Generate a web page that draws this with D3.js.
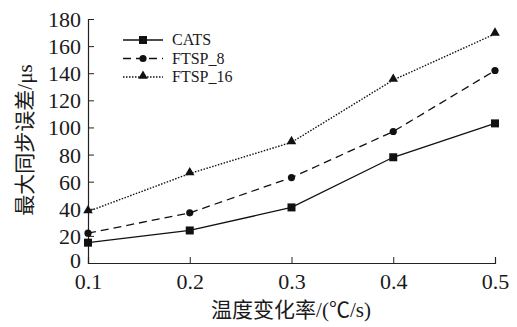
<!DOCTYPE html>
<html>
<head>
<meta charset="utf-8">
<script src="https://cdn.jsdelivr.net/npm/d3@7"></script>
<style>
  body { margin: 0; background: #fff; }
  text { font-family: "Liberation Serif", "Noto Sans CJK SC", serif; fill: #1a1a1a; }
</style>
</head>
<body>
<div id="chart"></div>
<script>
// data
var rates = [0.1, 0.2, 0.3, 0.4, 0.5];
var cats = [15, 24, 41, 78, 103];
var ftsp8 = [22, 37, 63, 97, 142];
var ftsp16 = [38, 66, 89, 135, 169];
var seriesNames = ["CATS", "FTSP_8", "FTSP_16"];
var yTicks = [0, 20, 40, 60, 80, 100, 120, 140, 160, 180];

var svgWidth = 517;
var svgHeight = 327;

var svg = d3.select("#chart")
  .append("svg")
  .attr("width", svgWidth)
  .attr("height", svgHeight);

var x = d3.scaleLinear().domain([0.1, 0.5]).range([88, 495]);
var y = d3.scaleLinear().domain([0, 180]).range([263, 19]);

// axes (ticks point inward)
var xAxis = svg.append("g")
  .attr("transform", "translate(0,263)")
  .call(d3.axisBottom(x).tickValues(rates).tickSize(-6).tickFormat(d3.format(".1f")));
var yAxis = svg.append("g")
  .attr("transform", "translate(88,0)")
  .call(d3.axisLeft(y).tickValues(yTicks).tickSize(-6));

[xAxis, yAxis].forEach(function(a) {
  a.attr("font-family", null);
  a.select(".domain").attr("stroke", "#222").attr("stroke-width", 1.2);
  a.selectAll(".tick line").attr("stroke", "#222").attr("stroke-width", 1);
  a.selectAll(".tick text")
    .style("font-family", "'Liberation Serif', serif")
    .style("font-size", "22px")
    .attr("fill", "#1a1a1a");
});
xAxis.selectAll(".tick text").attr("dy", "0.71em").attr("y", 10);
yAxis.selectAll(".tick text").attr("x", -7).attr("dy", "0.34em");
// lift the bottom "0" a little so it clears the "0.1" label
yAxis.selectAll(".tick text").filter(function(d) { return d === 0; }).attr("dy", "0.2em");

var series = [
  { name: seriesNames[0], values: cats, dash: null, marker: "square" },
  { name: seriesNames[1], values: ftsp8, dash: "8,5", marker: "circle" },
  { name: seriesNames[2], values: ftsp16, dash: "1.5,1.5", marker: "triangle" }
];

var line = d3.line()
  .x(function(d, i) { return x(rates[i]); })
  .y(function(d) { return y(d); });

function drawMarker(g, type, cx, cy) {
  if (type === "square") {
    g.append("rect").attr("x", cx - 4).attr("y", cy - 4).attr("width", 8).attr("height", 8).attr("fill", "#111");
  } else if (type === "circle") {
    g.append("circle").attr("cx", cx).attr("cy", cy).attr("r", 3.6).attr("fill", "#111");
  } else {
    g.append("path")
      .attr("d", d3.symbol().type(d3.symbolTriangle).size(40)())
      .attr("transform", "translate(" + cx + "," + (cy - 1) + ")")
      .attr("fill", "#111");
  }
}

series.forEach(function(s) {
  svg.append("path")
    .datum(s.values)
    .attr("d", line)
    .attr("fill", "none")
    .attr("stroke", "#111")
    .attr("stroke-width", s.marker === "triangle" ? 1.4 : 1.3)
    .attr("stroke-dasharray", s.dash);
  var g = svg.append("g");
  s.values.forEach(function(v, i) {
    drawMarker(g, s.marker, x(rates[i]), y(v));
  });
});

// legend
var legend = svg.append("g");
series.forEach(function(s, i) {
  var ly = 40 + i * 18.5;
  legend.append("line")
    .attr("x1", 123).attr("x2", 163)
    .attr("y1", ly).attr("y2", ly)
    .attr("stroke", "#111")
    .attr("stroke-width", 1.3)
    .attr("stroke-dasharray", s.dash);
  drawMarker(legend, s.marker, 143, ly);
  legend.append("text")
    .attr("x", 172)
    .attr("y", ly + 5)
    .style("font-size", "16px")
    .text(s.name);
});

// axis titles
svg.append("text")
  .attr("x", 291)
  .attr("y", 317)
  .attr("text-anchor", "middle")
  .style("font-size", "21px")
  .text("温度变化率/(℃/s)");

svg.append("text")
  .attr("transform", "translate(32,140) rotate(-90)")
  .attr("text-anchor", "middle")
  .style("font-size", "21px")
  .text("最大同步误差/μs");
</script>
</body>
</html>
